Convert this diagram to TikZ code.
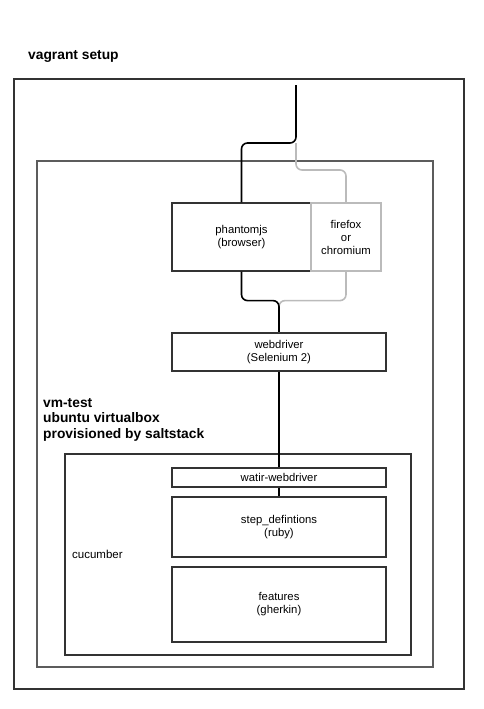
\documentclass[tikz,border=0pt]{standalone}
\usepackage{fontspec}
\setmainfont{Liberation Sans}
\usetikzlibrary{positioning}
\definecolor{frame}{HTML}{333333}
\definecolor{lightline}{HTML}{BBBBBB}
\tikzset{
  box/.style={draw=frame,line width=1.2pt,align=center,font=\fontsize{11.3}{13}\selectfont,inner sep=0pt},
  wire/.style={line width=1.6pt,rounded corners=6pt},
  altwire/.style={wire,draw=lightline},
  heading/.style={font=\fontsize{13.8}{15.5}\selectfont\bfseries,align=left,inner sep=0pt}
}
\begin{document}
\begin{tikzpicture}[x=1pt,y=-1pt]
\useasboundingbox (0,0) rectangle (484,709);
% Frames
\draw[frame,line width=1.3pt] (14,79) rectangle (464,689);
\draw[frame!80,line width=1.3pt] (37,161) rectangle (433,667);
\draw[frame,line width=1.3pt] (65,454) rectangle (411,655);
% Labels
\node[heading,anchor=west] (vagrant) at (28,56) {vagrant setup};
\node[heading,anchor=north west] (vmtest) at (43,398) {vm-test\\ubuntu virtualbox\\provisioned by saltstack};
\node[anchor=west,inner sep=0pt,font=\fontsize{11.5}{14}\selectfont] (cucumber) at (72,554) {cucumber};
% Boxes
\node[box,minimum width=139pt,minimum height=68pt] (phantom) at (241.5,237) {phantomjs\\(browser)};
\node[box,draw=lightline,minimum width=70pt,minimum height=68pt] (firefox) at (346,237) {firefox\\or\\chromium};
\node[box,minimum width=214pt,minimum height=38pt] (webdriver) at (279,352) {webdriver\\(Selenium 2)};
\node[box,minimum width=214pt,minimum height=19pt] (watir) at (279,477.5) {watir-webdriver};
\node[box,minimum width=214pt,minimum height=60pt] (steps) at (279,527) {step\_defintions\\(ruby)};
\node[box,minimum width=214pt,minimum height=75pt] (features) at (279,604.5) {features\\(gherkin)};
% Coordinates
\coordinate (top) at (296,85);
\coordinate (split) at (296,143);
% Draw connectors
\draw[altwire] (split) -- ++(0,27) -| (firefox.north);
\draw[altwire] (firefox.south) -- ++(0,29) -| (webdriver.north);
\draw[wire] (top) -- (split) -| (phantom.north);
\draw[wire] (phantom.south) -- ++(0,29) -| (webdriver.north);
\draw[wire] (webdriver.south) -- (watir.north);
\draw[wire] (watir.south) -- (steps.north);
\end{tikzpicture}
\end{document}
